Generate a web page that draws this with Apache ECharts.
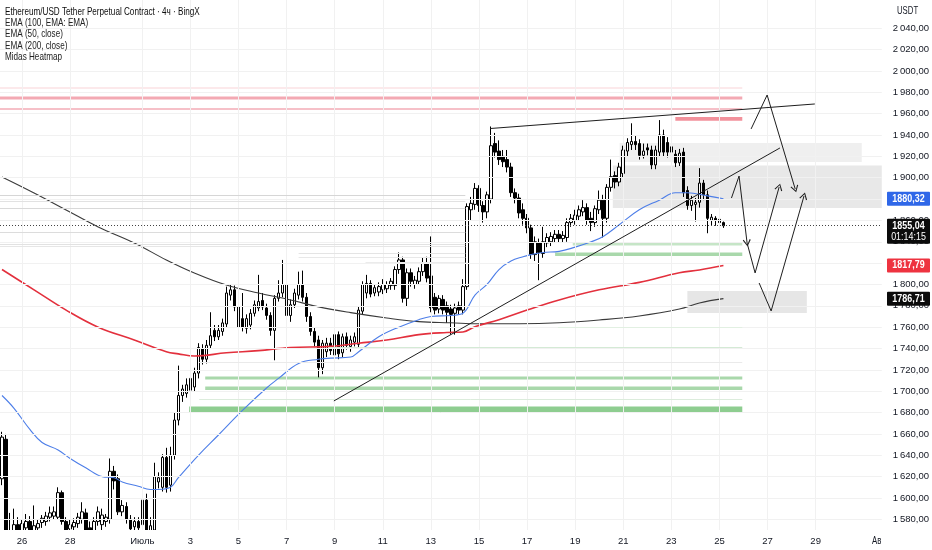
<!DOCTYPE html>
<html><head><meta charset="utf-8">
<script src="https://cdn.jsdelivr.net/npm/echarts@6/dist/echarts.min.js"></script>
<style>html,body{margin:0;padding:0;background:#fff}#c{width:932px;height:550px}</style>
</head><body><div id="c"></div>
<script>
// ---------- DATA ----------
// 4h slots starting Jun 25 04:00
const slotStart = Date.UTC(2023, 5, 25, 4);
const slotCount = 220;
const categories = [];
for (let i = 0; i < slotCount; i++) {
  const d = new Date(slotStart + i * 4 * 3600e3);
  categories.push((d.getUTCMonth() + 1) + '-' + d.getUTCDate() + ' ' + d.getUTCHours() + ':00');
}
// date tick labels: slot index and text
const tickIdx = [5, 17, 35, 47, 59, 71, 83, 95, 107, 119, 131, 143, 155, 167, 179, 191, 203];
const tickText = ['26', '28', 'Июль', '3', '5', '7', '9', '11', '13', '15', '17', '19', '21', '23', '25', '27', '29'];
const yTicks = [1580, 1600, 1620, 1640, 1660, 1680, 1700, 1720, 1740, 1760, 1780, 1800, 1820, 1840, 1860, 1880, 1900, 1920, 1940, 1960, 1980, 2000, 2020, 2040];

// candles: [open, close, low, high]
const candles = [
[1618,1657,1612,1662],[1655,1566,1560,1660],[1560,1568,1550,1586],[1568,1575,1558,1590],[1575,1565,1555,1582],
[1566,1576,1560,1580],[1572,1578,1565,1585],[1578,1568,1562,1583],[1568,1574,1562,1593],[1572,1576,1568,1580],
[1577,1581,1572,1584],[1578,1583,1574,1587],[1582,1586,1578,1592],[1583,1587,1580,1592],[1582,1605,1580,1610],
[1605,1578,1575,1607],[1578,1570,1566,1582],[1571,1575,1568,1580],[1573,1577,1570,1581],[1576,1582,1572,1586],
[1580,1587,1576,1596],[1586,1570,1565,1590],[1572,1566,1560,1578],[1567,1578,1562,1582],[1578,1587,1574,1592],
[1575,1584,1570,1590],[1578,1582,1573,1585],[1580,1625,1576,1637],[1625,1616,1608,1630],[1618,1587,1584,1622],
[1587,1593,1583,1598],[1592,1580,1576,1596],[1580,1571,1566,1584],[1573,1578,1568,1582],[1578,1572,1565,1582],
[1575,1598,1572,1605],[1598,1570,1560,1604],[1566,1574,1555,1582],[1570,1620,1565,1633],[1615,1619,1609,1624],
[1610,1638,1606,1641],[1638,1610,1605,1647],[1612,1640,1606,1648],[1640,1673,1636,1680],[1673,1696,1668,1724],
[1696,1702,1690,1706],[1698,1706,1694,1712],[1701,1712,1697,1715],[1704,1717,1700,1722],[1717,1741,1712,1745],
[1740,1730,1725,1744],[1730,1743,1726,1748],[1743,1752,1740,1774],[1757,1751,1747,1762],[1751,1757,1748,1762],
[1756,1764,1752,1768],[1763,1792,1760,1798],[1790,1795,1785,1800],[1795,1779,1775,1799],[1779,1760,1755,1784],
[1768,1760,1756,1792],[1759,1768,1754,1772],[1762,1773,1758,1777],[1773,1781,1770,1785],[1778,1784,1775,1809],
[1785,1779,1776,1792],[1778,1771,1767,1782],[1771,1757,1752,1774],[1757,1787,1729,1790],[1787,1792,1784,1804],
[1792,1800,1788,1823],[1800,1771,1768,1803],[1771,1781,1765,1786],[1781,1792,1778,1796],[1790,1800,1786,1812],
[1800,1788,1784,1813],[1788,1770,1765,1792],[1770,1756,1752,1774],[1756,1746,1742,1760],[1748,1722,1713,1752],
[1722,1745,1716,1748],[1737,1745,1732,1750],[1745,1738,1734,1750],[1734,1753,1730,1758],[1753,1735,1730,1756],
[1736,1751,1732,1754],[1751,1743,1739,1755],[1742,1748,1737,1752],[1746,1751,1742,1755],[1744,1776,1741,1779],
[1775,1800,1772,1803],[1792,1801,1787,1809],[1801,1791,1788,1804],[1792,1797,1789,1800],[1793,1798,1789,1802],
[1795,1800,1791,1805],[1796,1800,1792,1803],[1799,1803,1795,1806],[1799,1814,1795,1817],[1814,1823,1810,1830],
[1823,1787,1783,1826],[1787,1811,1779,1815],[1811,1803,1798,1815],[1800,1804,1796,1808],[1803,1812,1800,1816],
[1812,1820,1808,1825],[1820,1806,1802,1826],[1808,1778,1774,1845],[1788,1776,1772,1792],[1777,1787,1773,1790],
[1786,1776,1772,1790],[1780,1774,1764,1784],[1777,1772,1753,1781],[1773,1778,1753,1782],[1780,1776,1772,1784],
[1776,1798,1772,1805],[1798,1873,1795,1876],[1870,1876,1860,1882],[1875,1890,1870,1895],[1890,1874,1868,1893],
[1874,1868,1858,1878],[1868,1884,1862,1887],[1880,1930,1876,1948],[1932,1924,1919,1942],[1925,1917,1912,1935],
[1920,1915,1910,1926],[1917,1910,1905,1926],[1910,1886,1882,1914],[1886,1881,1876,1890],[1881,1867,1862,1885],
[1870,1862,1856,1876],[1862,1853,1848,1866],[1853,1828,1824,1856],[1828,1840,1822,1845],[1839,1830,1804,1843],
[1829,1840,1825,1854],[1839,1844,1835,1848],[1840,1845,1836,1849],[1843,1847,1839,1851],[1847,1843,1839,1851],
[1843,1846,1839,1850],[1844,1858,1840,1862],[1858,1862,1854,1866],[1860,1865,1856,1870],[1864,1870,1860,1874],
[1868,1872,1864,1879],[1872,1860,1856,1876],[1862,1858,1850,1868],[1858,1871,1854,1874],[1870,1879,1866,1888],
[1879,1862,1844,1884],[1862,1891,1858,1894],[1891,1901,1887,1917],[1902,1896,1890,1906],[1896,1910,1892,1914],
[1904,1926,1900,1930],[1925,1933,1920,1937],[1931,1934,1926,1951],[1934,1931,1926,1940],[1932,1921,1917,1936],
[1921,1925,1918,1932],[1928,1926,1921,1932],[1926,1912,1908,1930],[1912,1926,1908,1930],[1924,1940,1920,1954],
[1940,1924,1920,1945],[1933,1924,1919,1938],[1924,1929,1920,1933],[1922,1914,1910,1926],[1914,1923,1911,1927],
[1924,1886,1882,1928],[1888,1874,1870,1892],[1874,1879,1869,1883],[1875,1877,1859,1881],[1877,1895,1872,1909],
[1895,1884,1879,1898],[1884,1862,1848,1888],[1860,1863,1855,1866],[1862,1860,1855,1864],[1861,1858,1853,1863],
[1858,1855.04,1853,1859]
];

// EMA readings: [slot, price]
const ema50 = [[0,1696],[3,1684],[7,1664],[10,1652],[14,1645],[17,1637],[21,1628],[25,1620],[28,1619],[30,1615],[34,1611],[37,1608],[39,1608],[42,1610],[44,1619],[49,1640],[54,1659],[60,1682],[66,1703],[69,1712],[74,1726],[79,1730],[82,1731],[87,1732],[89,1737],[94,1751],[99,1760],[104,1767],[107,1770],[112,1771],[115,1773],[118,1790],[121,1800],[124,1814],[127,1822],[130,1826],[132,1828],[135,1830],[139,1831],[143,1835],[147,1840],[150,1845],[154,1856],[159,1870],[164,1879],[168,1886],[171,1886],[176,1883],[180,1880.32]];
const ema100 = [[0,1814],[8,1795],[16,1776],[24,1760],[33,1748],[41,1737],[44,1735],[48,1733],[56,1736],[64,1738],[72,1741],[82,1742],[89,1745],[96,1748],[104,1753],[111,1755],[115,1755.5],[118,1760.5],[124,1767],[131,1776],[139,1785.5],[149,1795],[159,1802],[169,1811],[174,1813.6],[180,1817.79]];
const ema200 = [[0,1900.7],[8,1885.7],[16,1869.8],[24,1853.9],[33,1838.9],[41,1823],[48,1810.8],[56,1799.5],[64,1792],[72,1785.5],[79,1779],[87,1773.6],[96,1768.6],[104,1765.2],[112,1764.1],[119,1763.2],[129,1763.2],[139,1764.1],[149,1766.7],[159,1770.5],[169,1777],[174,1782.7],[180,1786.71]];

// zones: [slotFrom, slotTo, priceTop, priceBottom, colour]
const redZones = [
  [-0.5, 184.7, 1984.6, 1983.6, '#f9d3d8'],
  [-0.5, 184.7, 1976.2, 1973.3, '#f3a9b3'],
  [-0.5, 184.7, 1965.4, 1963.5, '#f6c0c8'],
  [168, 184.7, 1957.0, 1953.3, '#f2919b']
];
const grayZones = [
  [154.1, 214.5, 1932.6, 1914.8, '#efefef'],
  [152.4, 219.5, 1911.5, 1871.7, '#e8e8e8'],
  [171.0, 200.8, 1793.9, 1773.3, '#e6e6e6']
];
const greenZones = [
  [142.4, 184.7, 1838.9, 1836.5, '#c6e5c7'],
  [138.0, 184.7, 1830.0, 1826.7, '#a9d8ab'],
  [50.7, 184.7, 1713.8, 1711.0, '#a9d8ab'],
  [50.7, 184.7, 1704.4, 1701.2, '#a9d8ab'],
  [46.7, 184.7, 1685.7, 1679.6, '#8ecd90']
];
// thin heatmap levels: [slotFrom, slotTo, price, colour]
const heatLines = [
  [-0.5, 115.6, 1883.8, '#d6d6d6'], [-0.5, 115.6, 1878.2, '#e2e2e2'], [-0.5, 115.6, 1871.7, '#d9d9d9'],
  [-0.5, 115.6, 1860.4, '#ececec'], [-0.5, 115.6, 1849.2, '#dcdcdc'], [-0.5, 115.6, 1837.9, '#e2e2e2'],
  [-0.5, 115.6, 1835.6, '#e6e6e6'], [74, 115.6, 1829.5, '#e4e4e4'], [74, 115.6, 1825.8, '#e8e8e8'],
  [90.7, 115.6, 1821.1, '#ebebeb'],
  [81.5, 184.7, 1741.5, '#d4ead5'], [138.7, 184.7, 1760.2, '#e2f0e2'], [49.2, 184.7, 1692.7, '#dcecdc'],
  [49.2, 184.7, 1727.4, '#eaeaea']
];
const lastPrice = 1855.04;
// hand-drawn lines: polylines of [slot, price]
const wedgeTop = [[121.8, 1946.1], [202.8, 1969.1]];
const trendUp = [[82.8, 1690.9], [194.1, 1927.9]];
const pathA = [[186.9, 1945.7], [190.9, 1977.5], [197.9, 1889.5]];
const pathB1 = [[182.0, 1881.0], [183.9, 1901.6], [185.9, 1838.9]];
const pathB2 = [[185.9, 1838.9], [187.9, 1810.8], [193.9, 1891.3]];
const pathC = [[188.9, 1801.4], [191.9, 1775.2], [200.1, 1882.9]];
// price tags on the axis
const priceTags = [
  { value: 1880.32, text: '1880,32', bg: '#2f67e8' },
  { value: 1855.04, text: '1855,04', sub: '01:14:15', bg: '#0b0b0b' },
  { value: 1817.79, text: '1817,79', bg: '#ee3340' },
  { value: 1786.71, text: '1786,71', bg: '#0b0b0b' }
];
const legendLines = ['Ethereum/USD Tether Perpetual Contract · 4ч · BingX', 'EMA (100, EMA: EMA)', 'EMA (50, close)', 'EMA (200, close)', 'Midas Heatmap'];

// ---------- CHART ----------
const FONT = '"Liberation Sans",Arial,sans-serif';
const SQ = 0.74; // horizontal squeeze of overlay texts
const chart = echarts.init(document.getElementById('c'), null, { renderer: 'canvas' });
const labelMap = {};
tickIdx.forEach((k, i) => labelMap[k] = tickText[i]);
const X0 = -0.5, X1 = slotCount - 0.5, Y0 = 1570, Y1 = 2066.5;
const chevron = 'path://M5,0 L10,8 L8.8,8.8 L5,2.2 L1.2,8.8 L0,8 Z';

function seg(a, b, style, endArrow) {
  const s = { coord: a, symbol: 'none', lineStyle: style };
  const e = endArrow ? { coord: b, symbol: chevron, symbolSize: [8, 7] } : { coord: b, symbol: 'none' };
  return [s, e];
}
function poly(pts, style, arrow) {
  const out = [];
  for (let i = 0; i < pts.length - 1; i++) out.push(seg(pts[i], pts[i + 1], style, arrow && i === pts.length - 2));
  return out;
}
const gridStyle = { color: '#f1f1f1', width: 1, type: 'solid' };
const gridLines = [];
yTicks.forEach(v => gridLines.push(seg([X0, v], [X1, v], gridStyle)));
tickIdx.forEach(k => gridLines.push(seg([k, Y0], [k, Y1], gridStyle)));

const zoneArea = z => [{ coord: [z[0], z[2]], itemStyle: { color: z[4] } }, { coord: [z[1], z[3]] }];
const heat = heatLines.map(h => seg([h[0], h[2]], [h[1], h[2]], { color: h[3], width: 1, type: 'solid' }));
const drawStyle = { color: '#1e1e1e', width: 1, type: 'solid' };
const drawn = [].concat(
  poly(wedgeTop, drawStyle), poly(trendUp, drawStyle),
  poly(pathA, drawStyle, true), poly(pathB1, drawStyle, true), poly(pathB2, drawStyle, true), poly(pathC, drawStyle, true)
);

chart.setOption({
  animation: false,
  backgroundColor: '#ffffff',
  grid: { left: 0, right: 47, top: 0, bottom: 20 },
  xAxis: [
    { type: 'category', data: categories, boundaryGap: true, z: 60,
      axisLine: { show: false }, axisTick: { show: false }, splitLine: { show: false },
      axisLabel: { interval: (i) => labelMap[i] !== undefined, formatter: (v, i) => labelMap[i] || '',
        margin: 6, fontSize: 9.5, color: '#131722', fontFamily: FONT } },
    { type: 'value', min: X0, max: X1, show: false }
  ],
  yAxis: { type: 'value', position: 'right', min: Y0, max: Y1, scale: true, z: 60,
    axisLine: { show: false }, axisTick: { show: false, customValues: yTicks }, splitLine: { show: false },
    axisLabel: { customValues: yTicks, margin: 11, fontSize: 9.5, color: '#131722', fontFamily: FONT,
      formatter: v => { const t = Math.floor(v / 1000), r = Math.round(v - t * 1000); return t + '\u2009' + String(r).padStart(3, '0') + ',00'; } } },
  series: [
    { type: 'line', xAxisIndex: 1, data: [], z: 0, silent: true,
      markLine: { silent: true, animation: false, label: { show: false }, symbol: 'none', data: gridLines } },
    { type: 'line', xAxisIndex: 1, data: [], z: 1, silent: true,
      markArea: { silent: true, data: grayZones.map(zoneArea).concat(redZones.map(zoneArea), greenZones.map(zoneArea)) },
      markLine: { silent: true, label: { show: false }, symbol: 'none', data: heat.concat([
        seg([X0, lastPrice], [X1, lastPrice], { color: '#444', width: 1, type: [1, 2] })]) } },
    { type: 'candlestick', xAxisIndex: 0, data: candles, barWidth: 3, z: 3,
      itemStyle: { color: '#ffffff', color0: '#000000', borderColor: '#000000', borderColor0: '#000000', borderWidth: 1 } },
    { type: 'line', xAxisIndex: 1, data: ema200, smooth: 0.4, showSymbol: false, z: 4, lineStyle: { color: '#3a3a3a', width: 1.1 } },
    { type: 'line', xAxisIndex: 1, data: ema100, smooth: 0.4, showSymbol: false, z: 4, lineStyle: { color: '#e3303d', width: 1.6 } },
    { type: 'line', xAxisIndex: 1, data: ema50, smooth: 0.4, showSymbol: false, z: 4, lineStyle: { color: '#4d7ee8', width: 1.1 } },
    { type: 'line', xAxisIndex: 1, data: [], z: 5, silent: true,
      markLine: { silent: true, label: { show: false }, data: drawn } }
  ]
});

// overlay texts, bottom mask and price tags
const g = [];
g.push({ type: 'rect', shape: { x: 0, y: 530, width: 932, height: 20 }, style: { fill: '#ffffff' }, z: 50, silent: true });
legendLines.forEach((t, i) => g.push({ type: 'text', x: 5, y: 11.5 + i * 11.4, scaleX: SQ,
  style: { text: t, fill: i === 0 ? '#0d0d0d' : '#222', font: '11px ' + FONT, textVerticalAlign: 'middle' }, z: 100 }));
g.push({ type: 'text', x: 897, y: 11, scaleX: SQ, style: { text: 'USDT', fill: '#131722', font: '10.5px ' + FONT, textVerticalAlign: 'middle' }, z: 100 });
g.push({ type: 'text', x: 872, y: 541, scaleX: SQ, style: { text: 'Ав', fill: '#131722', font: '10.5px ' + FONT, textVerticalAlign: 'middle' }, z: 100 });
priceTags.forEach(p => {
  const y = chart.convertToPixel({ yAxisIndex: 0 }, p.value);
  const h = p.sub ? 25 : 14;
  g.push({ type: 'rect', shape: { x: 887, y: y - 7, width: 43, height: h, r: 1 }, style: { fill: p.bg }, z: 100 });
  g.push({ type: 'text', x: 908.5, y: y, scaleX: 0.85, style: { text: p.text, fill: '#fff', font: 'bold 10.5px ' + FONT, textAlign: 'center', textVerticalAlign: 'middle' }, z: 101 });
  if (p.sub) g.push({ type: 'text', x: 908.5, y: y + 11, scaleX: 0.85, style: { text: p.sub, fill: '#fff', font: '10.5px ' + FONT, textAlign: 'center', textVerticalAlign: 'middle' }, z: 101 });
});
chart.setOption({ graphic: g });
</script>
</body></html>
